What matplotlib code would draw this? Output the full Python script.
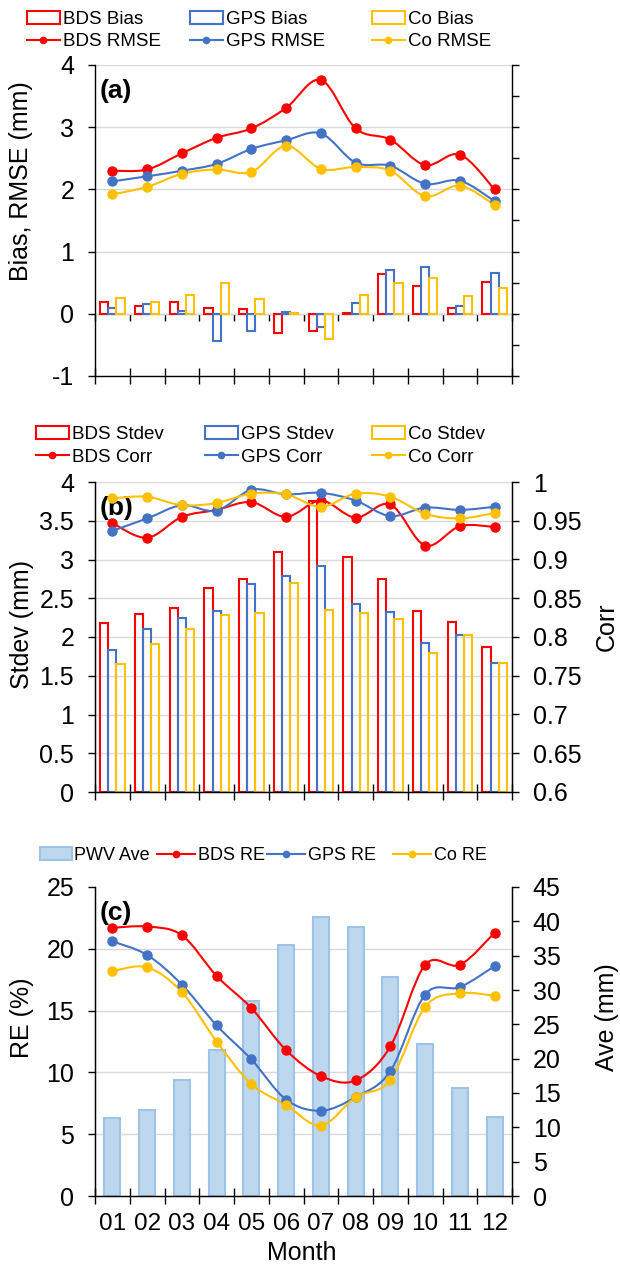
import numpy as np
import matplotlib
matplotlib.use('Agg')
import matplotlib.pyplot as plt
from matplotlib.path import Path
from matplotlib.patches import PathPatch
from matplotlib.lines import Line2D
from matplotlib.ticker import MultipleLocator, FormatStrFormatter

plt.rcParams['font.family'] = ['Liberation Sans', 'DejaVu Sans']
plt.rcParams['axes.unicode_minus'] = False

months = ['01', '02', '03', '04', '05', '06', '07', '08', '09', '10', '11', '12']

# (a) bias / rmse in mm
bds_bias = [0.19, 0.12, 0.19, 0.10, 0.07, -0.31, -0.28, 0.02, 0.64, 0.45, 0.10, 0.51]
gps_bias = [0.10, 0.16, 0.05, -0.43, -0.28, 0.03, -0.22, 0.18, 0.70, 0.76, 0.12, 0.65]
co_bias = [0.25, 0.19, 0.30, 0.49, 0.23, 0.01, -0.40, 0.30, 0.49, 0.58, 0.28, 0.42]
bds_rmse = [2.30, 2.32, 2.58, 2.83, 2.98, 3.31, 3.76, 2.98, 2.80, 2.39, 2.56, 2.00]
gps_rmse = [2.13, 2.21, 2.30, 2.41, 2.65, 2.79, 2.90, 2.43, 2.38, 2.09, 2.14, 1.81]
co_rmse = [1.92, 2.04, 2.25, 2.32, 2.28, 2.70, 2.33, 2.36, 2.30, 1.89, 2.06, 1.75]

# (b) stdev in mm, correlation
bds_std = [2.18, 2.30, 2.38, 2.63, 2.75, 3.10, 3.75, 3.03, 2.75, 2.33, 2.19, 1.87]
gps_std = [1.83, 2.10, 2.25, 2.34, 2.68, 2.79, 2.91, 2.42, 2.32, 1.92, 2.03, 1.67]
co_std = [1.65, 1.91, 2.10, 2.28, 2.31, 2.70, 2.35, 2.31, 2.23, 1.79, 2.03, 1.67]
bds_corr = [0.947, 0.928, 0.955, 0.964, 0.974, 0.955, 0.976, 0.954, 0.971, 0.918, 0.943, 0.942]
gps_corr = [0.937, 0.953, 0.970, 0.963, 0.990, 0.984, 0.986, 0.976, 0.956, 0.967, 0.964, 0.968]
co_corr = [0.979, 0.981, 0.970, 0.973, 0.985, 0.984, 0.968, 0.985, 0.981, 0.959, 0.953, 0.960]

# (c) relative error in %, mean PWV in mm
bds_re = [21.7, 21.8, 21.1, 17.8, 15.2, 11.8, 9.7, 9.35, 12.1, 18.7, 18.7, 21.3]
gps_re = [20.6, 19.5, 17.1, 13.8, 11.05, 7.8, 6.9, 8.0, 10.1, 16.3, 16.9, 18.6]
co_re = [18.2, 18.5, 16.5, 12.5, 9.06, 7.36, 5.7, 8.0, 9.4, 15.3, 16.4, 16.2]
pwv_ave = [11.4, 12.5, 16.9, 21.2, 28.4, 36.6, 40.6, 39.2, 31.9, 22.1, 15.7, 11.5]

RED = '#ff0000'
BLUE = '#4472c4'
YEL = '#ffc000'
GRID = '#d9d9d9'
W, H = 620, 1268
FS = 18
x = np.arange(len(months))
bw = 0.235


def smooth_path(xs, ys):
    # excel-like smoothed line: catmull-rom segments as cubic beziers
    p = np.column_stack([xs, ys]).astype(float)
    n = len(p)
    verts = [p[0]]
    codes = [Path.MOVETO]
    for i in range(n - 1):
        p0 = p[i - 1] if i > 0 else p[i]
        p3 = p[i + 2] if i + 2 < n else p[i + 1]
        verts += [p[i] + (p[i + 1] - p0) / 6, p[i + 1] - (p3 - p[i]) / 6, p[i + 1]]
        codes += [Path.CURVE4] * 3
    return Path(verts, codes)


def smooth_line(ax, ys, color):
    ax.add_patch(PathPatch(smooth_path(x, ys), fill=False, edgecolor=color, lw=1.5, zorder=3))
    ax.plot(x, ys, 'o', color=color, ms=6.5, zorder=4)


def hollow_bars(ax, vals, off, color):
    return ax.bar(x + off, vals, bw, facecolor='none', edgecolor=color, lw=1.5, zorder=2)


def style(ax):
    ax.set_xlim(-0.5, 11.5)
    ax.spines['top'].set_visible(False)
    for s in ['left', 'right', 'bottom']:
        ax.spines[s].set_color('black')
        ax.spines[s].set_linewidth(1.0)
    ax.set_xticks(x)
    ax.set_xticks(np.arange(-0.5, 12, 1), minor=True)
    ax.tick_params(axis='x', which='major', length=0, labelbottom=False)
    ax.tick_params(axis='x', which='minor', direction='inout', length=11, width=1)
    ax.tick_params(axis='y', labelsize=FS, width=1, length=5, pad=10)


def fig_legend(handles, labels, xp, yp, hl=1.75, fs=13.5):
    fig.legend(handles, labels, loc='upper left', bbox_to_anchor=(xp / W, 1 - yp / H),
               frameon=False, borderpad=0, borderaxespad=0, handlelength=hl,
               handletextpad=0.15, labelspacing=0.28, fontsize=fs)


def proxy(color):
    return Line2D([], [], color=color, lw=1.5, marker='o', ms=4.5)


fig = plt.figure(figsize=(W / 100, H / 100), dpi=100)

# ---------------- (a)
ax_a = fig.add_axes([95 / W, 1 - 376 / H, 417 / W, 311 / H])
style(ax_a)
ax_a.set_ylim(-1, 4)
ax_a.yaxis.set_major_locator(MultipleLocator(1))
ax_a.yaxis.set_minor_locator(MultipleLocator(0.5))
ax_a.tick_params(axis='y', which='major', right=True)
ax_a.tick_params(axis='y', which='minor', left=False, right=True, length=5, width=1)
ax_a.grid(axis='y', which='major', color=GRID, lw=1)
ax_a.set_axisbelow(True)
ba1 = hollow_bars(ax_a, bds_bias, -bw, RED)
ba2 = hollow_bars(ax_a, gps_bias, 0, BLUE)
ba3 = hollow_bars(ax_a, co_bias, bw, YEL)
smooth_line(ax_a, bds_rmse, RED)
smooth_line(ax_a, gps_rmse, BLUE)
smooth_line(ax_a, co_rmse, YEL)
zero = ax_a.secondary_xaxis((0 - (-1)) / 5)
zero.set_xticks(np.arange(-0.5, 12, 1))
zero.tick_params(axis='x', direction='out', length=5, width=1, labelbottom=False)
zero.spines['bottom'].set_color('black')
ax_a.text(0.012, 0.916, '(a)', transform=ax_a.transAxes, fontsize=19, fontweight='bold', va='center')

fig_legend([ba1, proxy(RED)], ['BDS Bias', 'BDS RMSE'], 27, 11)
fig_legend([ba2, proxy(BLUE)], ['GPS Bias', 'GPS RMSE'], 190, 11)
fig_legend([ba3, proxy(YEL)], ['Co Bias', 'Co RMSE'], 372, 11)
fig.text(21 / W, 1 - 181 / H, 'Bias, RMSE (mm)', rotation=90, ha='center', va='center', fontsize=FS)

# ---------------- (b)
ax_b = fig.add_axes([95 / W, 1 - 792 / H, 417 / W, 310 / H])
style(ax_b)
ax_b.set_ylim(0, 4)
ax_b.yaxis.set_major_locator(MultipleLocator(0.5))
ax_b.yaxis.set_major_formatter(FormatStrFormatter('%g'))
ax_b.grid(axis='y', color=GRID, lw=1)
ax_b.set_axisbelow(True)
bb1 = hollow_bars(ax_b, bds_std, -bw, RED)
bb2 = hollow_bars(ax_b, gps_std, 0, BLUE)
bb3 = hollow_bars(ax_b, co_std, bw, YEL)
ax_b2 = ax_b.twinx()
ax_b2.set_ylim(0.6, 1)
ax_b2.spines['top'].set_visible(False)
ax_b2.spines['right'].set_color('black')
ax_b2.yaxis.set_major_locator(MultipleLocator(0.05))
ax_b2.yaxis.set_major_formatter(FormatStrFormatter('%g'))
ax_b2.tick_params(axis='y', labelsize=FS, width=1, length=5, pad=10)
smooth_line(ax_b2, bds_corr, RED)
smooth_line(ax_b2, gps_corr, BLUE)
smooth_line(ax_b2, co_corr, YEL)
ax_b.text(0.012, 0.916, '(b)', transform=ax_b.transAxes, fontsize=19, fontweight='bold', va='center')

fig_legend([bb1, proxy(RED)], ['BDS Stdev', 'BDS Corr'], 36, 426)
fig_legend([bb2, proxy(BLUE)], ['GPS Stdev', 'GPS Corr'], 205, 426)
fig_legend([bb3, proxy(YEL)], ['Co Stdev', 'Co Corr'], 372, 426)
fig.text(22 / W, 1 - 624 / H, 'Stdev (mm)', rotation=90, ha='center', va='center', fontsize=FS)
fig.text(607 / W, 1 - 627 / H, 'Corr', rotation=90, ha='center', va='center', fontsize=FS)

# ---------------- (c)
ax_c2 = fig.add_axes([95 / W, 1 - 1196 / H, 417 / W, 309 / H])
style(ax_c2)
ax_c2.set_ylim(0, 45)
ax_c2.yaxis.set_major_locator(MultipleLocator(5))
ax_c2.set_yticks(np.linspace(0, 45, 6), minor=True)
ax_c2.grid(axis='y', which='minor', color=GRID, lw=1)
ax_c2.set_axisbelow(True)
ax_c2.tick_params(axis='x', which='major', labelbottom=True, labelsize=17.5, pad=12)
ax_c2.set_xticklabels(months)
pw = ax_c2.bar(x, pwv_ave, 0.46, color='#bdd7ee', edgecolor='#9dc3e6', lw=1.5, zorder=2)
ax_c = ax_c2.twinx()
ax_c2.yaxis.tick_right()
ax_c.yaxis.tick_left()
ax_c2.tick_params(axis='y', which='minor', length=0)
ax_c.set_ylim(0, 25)
ax_c.spines['top'].set_visible(False)
ax_c.spines['left'].set_color('black')
ax_c.yaxis.set_major_locator(MultipleLocator(5))
ax_c.tick_params(axis='y', labelsize=FS, width=1, length=5, pad=10)
smooth_line(ax_c, bds_re, RED)
smooth_line(ax_c, gps_re, BLUE)
smooth_line(ax_c, co_re, YEL)
ax_c.text(0.012, 0.916, '(c)', transform=ax_c.transAxes, fontsize=19, fontweight='bold', va='center')

fig_legend([pw], ['PWV Ave'], 40, 847, fs=13)
fig_legend([proxy(RED)], ['BDS RE'], 157, 847, hl=2.1, fs=13)
fig_legend([proxy(BLUE)], ['GPS RE'], 267, 847, hl=2.1, fs=13)
fig_legend([proxy(YEL)], ['Co RE'], 393, 847, hl=2.1, fs=13)
fig.text(22 / W, 1 - 1018 / H, 'RE (%)', rotation=90, ha='center', va='center', fontsize=FS)
fig.text(607 / W, 1 - 1017 / H, 'Ave (mm)', rotation=90, ha='center', va='center', fontsize=FS)
fig.text(302 / W, 1 - 1253 / H, 'Month', ha='center', va='center', fontsize=FS)

fig.savefig('out.png', dpi=100)
